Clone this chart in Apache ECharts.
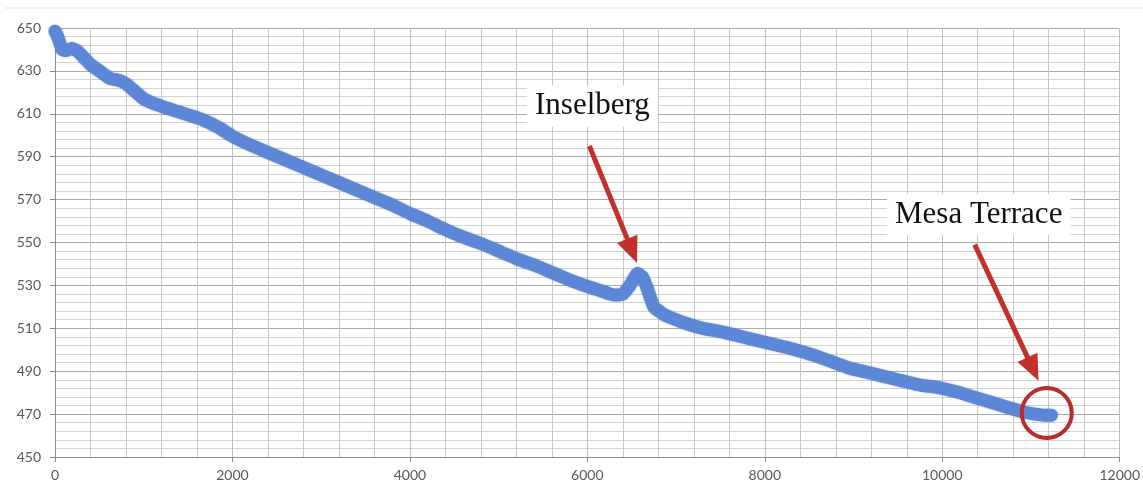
<!DOCTYPE html>
<html>
<head>
<meta charset="utf-8">
<script src="https://cdn.jsdelivr.net/npm/echarts@6/dist/echarts.min.js"></script>
<style>
html,body{margin:0;padding:0;background:#fff;}
#chart{width:1143px;height:490px;}
</style>
</head>
<body>
<div id="chart"></div>
<script>
// distance values (x) and elevation values (y)
const distance = [0, 30, 80, 120, 190, 260, 330, 400, 500, 620, 730, 800, 900, 1000, 1100, 1200, 1350, 1500, 1650, 1850, 2000, 2200, 2400, 2600, 2800, 3000, 3200, 3400, 3600, 3800, 4000, 4200, 4400, 4600, 4800, 5000, 5200, 5400, 5600, 5800, 6000, 6150, 6300, 6400, 6480, 6565, 6620, 6680, 6750, 6860, 7000, 7130, 7300, 7500, 7700, 7900, 8100, 8300, 8550, 8750, 8950, 9150, 9350, 9550, 9750, 9950, 10150, 10350, 10550, 10750, 10920, 11050, 11150, 11230];
const elevation = [648.5, 646, 640, 639.5, 640.5, 639, 636, 633, 630, 626.5, 625.5, 624, 620.5, 617, 615, 613.5, 611.5, 609.5, 607.5, 603.5, 599.5, 595.5, 592, 588.5, 585, 581.5, 578, 574.5, 571, 567.5, 563.5, 560, 556, 552.5, 549.5, 546, 542.5, 539.5, 536, 532.5, 529.5, 527.5, 525.5, 526, 530, 535.5, 534, 528, 520, 516.5, 514, 512, 510, 508.5, 506.5, 504.5, 502.5, 500.5, 497.5, 494.5, 491.5, 489.5, 487.5, 485.5, 483.5, 482.5, 480.5, 478, 475.5, 473, 471, 470, 469.5, 469.5];

const xTicks = [0, 2000, 4000, 6000, 8000, 10000, 12000];
const yTicks = [450, 470, 490, 510, 530, 550, 570, 590, 610, 630, 650];

// annotation anchors in data space
const annotations = [
  {label: 'Inselberg', text: [6057, 613.5], from: [6023, 595], to: [6560, 540.5]},
  {label: 'Mesa Terrace', text: [10411, 563], from: [10366, 549], to: [11085, 485.5]}
];
const circleAt = [11178, 470.5];

const chart = echarts.init(document.getElementById('chart'));
const data = distance.map((d, i) => [d, elevation[i]]);
const labelFont = 'Lato, "Liberation Sans", sans-serif';

chart.setOption({
  animation: false,
  grid: {left: 55, right: 23, top: 28, bottom: 33, containLabel: false},
  xAxis: {
    type: 'value', min: xTicks[0], max: xTicks[xTicks.length - 1], interval: 2000,
    axisLine: {show: true, lineStyle: {color: '#8c8c8c', width: 1}},
    axisTick: {show: true, length: 5, lineStyle: {color: '#8c8c8c'}},
    axisLabel: {color: '#595959', fontSize: 14, fontFamily: labelFont, margin: 11, formatter: v => String(v)},
    splitLine: {show: true, lineStyle: {color: '#bdbdbd', width: 1}},
    minorTick: {show: false, splitNumber: 5},
    minorSplitLine: {show: true, lineStyle: {color: '#c6c6c6', width: 1}}
  },
  yAxis: {
    type: 'value', min: yTicks[0], max: yTicks[yTicks.length - 1], interval: 20,
    axisLine: {show: true, lineStyle: {color: '#8c8c8c', width: 1}},
    axisTick: {show: true, length: 5, lineStyle: {color: '#8c8c8c'}},
    axisLabel: {color: '#595959', fontSize: 14, fontFamily: labelFont, margin: 14, formatter: v => String(v)},
    splitLine: {show: true, lineStyle: {color: '#aaaaaa', width: 1}},
    minorTick: {show: false, splitNumber: 5},
    minorSplitLine: {show: true, lineStyle: {color: '#d3d3d3', width: 1}}
  },
  series: [{
    type: 'line', data: data, showSymbol: false, smooth: 0.15,
    lineStyle: {color: '#5b87d6', width: 13, cap: 'round', join: 'round', shadowColor: 'rgba(40,70,140,0.4)', shadowBlur: 2}
  }]
});

function px(p) { return chart.convertToPixel({gridIndex: 0}, p); }

const g = [{
  type: 'line', shape: {x1: 5, y1: 8, x2: 1143, y2: 8}, style: {stroke: '#e2e2e2', lineWidth: 1}, silent: true
}];
const red = '#c3302b';
annotations.forEach(a => {
  const t = px(a.text), f = px(a.from), e = px(a.to);
  g.push({type: 'text', x: t[0], y: t[1], z: 10,
    style: {text: a.label, fontFamily: '"Liberation Serif", "DejaVu Serif", serif', fontSize: 31, fill: '#111',
      align: 'center', verticalAlign: 'middle', backgroundColor: '#fff', padding: [5, 8]}});
  const dx = e[0] - f[0], dy = e[1] - f[1], L = Math.hypot(dx, dy);
  const ux = dx / L, uy = dy / L, hl = 26, hw = 11;
  const bx = e[0] - ux * hl, by = e[1] - uy * hl;
  g.push({type: 'line', z: 10, shape: {x1: f[0], y1: f[1], x2: bx + ux * 2, y2: by + uy * 2},
    style: {stroke: red, lineWidth: 5}});
  g.push({type: 'polygon', z: 10, shape: {points: [[e[0], e[1]], [bx - uy * hw, by + ux * hw], [bx + uy * hw, by - ux * hw]]},
    style: {fill: red}});
});
const c = px(circleAt);
g.push({type: 'circle', z: 10, shape: {cx: c[0], cy: c[1], r: 25}, style: {fill: 'none', stroke: '#b92c2c', lineWidth: 4}});
chart.setOption({graphic: g});
</script>
</body>
</html>
